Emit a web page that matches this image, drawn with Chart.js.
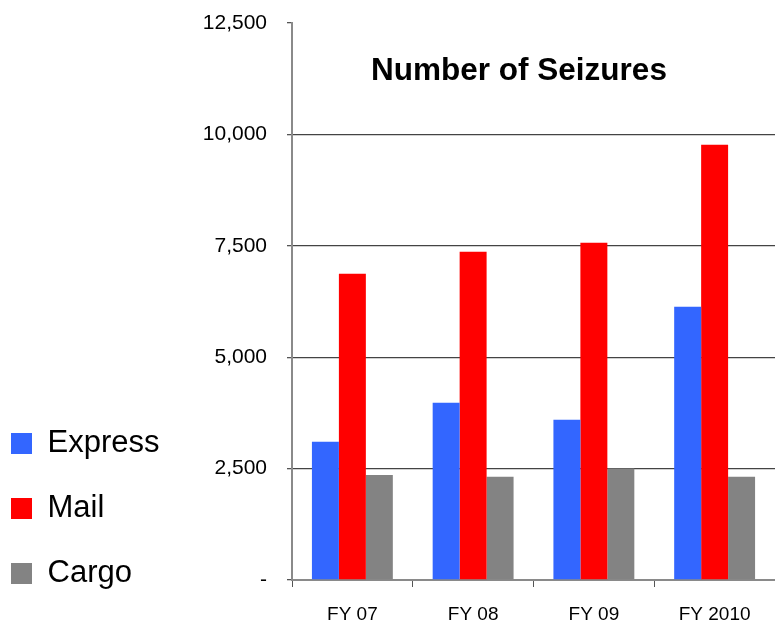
<!DOCTYPE html>
<html lang="en">
<head>
  <meta charset="UTF-8" />
  <title>Number of Seizures</title>
  <script src="https://cdn.jsdelivr.net/npm/chart.js"></script>
  <style>
    html, body { margin: 0; padding: 0; background: #fff; }
    #wrap { width: 775px; height: 623px; }
  </style>
</head>
<body>
  <div id="wrap"><canvas id="chart"></canvas></div>
  <script>
    const years = ["FY 07", "FY 08", "FY 09", "FY 2010"];
    const express = [3100, 3975, 3595, 6130];
    const mail = [6870, 7365, 7570, 9770];
    const cargo = [2355, 2315, 2500, 2315];
    const yTicks = [0, 2500, 5000, 7500, 10000, 12500];

    const FONT = "'Liberation Sans', Arial, sans-serif";
    const LEFT_PAD = -23;

    // title sits inside the plot area in the original
    const insideTitle = {
      id: "insideTitle",
      afterDraw(chart) {
        const ctx = chart.ctx;
        ctx.save();
        ctx.font = "bold 31.5px " + FONT;
        ctx.fillStyle = "#000";
        ctx.textAlign = "center";
        ctx.textBaseline = "alphabetic";
        ctx.fillText("Number of Seizures", 519, 80);
        ctx.restore();
      }
    };

    new Chart(document.getElementById("chart"), {
      type: "bar",
      data: {
        labels: years,
        datasets: [
          { label: "Express", data: express, backgroundColor: "#3366ff" },
          { label: "Mail", data: mail, backgroundColor: "#ff0000" },
          { label: "Cargo", data: cargo, backgroundColor: "#838383" }
        ]
      },
      options: {
        responsive: true,
        maintainAspectRatio: false,
        animation: false,
        events: [],
        categoryPercentage: 0.67,
        barPercentage: 1.0,
        layout: { padding: { left: LEFT_PAD, top: 23, right: 0, bottom: 0 } },
        plugins: {
          title: { display: false },
          tooltip: { enabled: false },
          legend: {
            position: "left",
            align: "end",
            labels: {
              boxWidth: 21,
              boxHeight: 21,
              padding: 34,
              color: "#000",
              font: { family: FONT, size: 31 }
            }
          }
        },
        scales: {
          x: {
            grid: {
              display: true,
              drawOnChartArea: false,
              drawTicks: true,
              tickLength: 7,
              tickColor: "#555",
              offset: true
            },
            border: { display: true, color: "#8a8a8a", width: 2 },
            ticks: {
              color: "#000",
              padding: 16,
              font: { family: FONT, size: 19 }
            },
            afterFit(s) { s.height = 43; }
          },
          y: {
            min: 0,
            max: 12500,
            afterBuildTicks(s) { s.ticks = yTicks.map(v => ({ value: v })); },
            grid: {
              color: ctx => (ctx.tick && ctx.tick.value === 12500) ? "rgba(0,0,0,0)" : "#444",
              lineWidth: 1.3,
              tickColor: "#555",
              tickLength: 5
            },
            border: { display: true, color: "#8a8a8a", width: 2 },
            ticks: {
              color: "#000",
              padding: 20,
              font: { family: FONT, size: 21 },
              callback: v => v === 0 ? "-" : v.toLocaleString("en-US")
            },
            afterFit(s) {
              s.width = 292 - (s.chart.legend.width + LEFT_PAD);
              s.paddingTop = 0;
              s.paddingBottom = 0;
            }
          }
        }
      },
      plugins: [insideTitle]
    });
  </script>
</body>
</html>
